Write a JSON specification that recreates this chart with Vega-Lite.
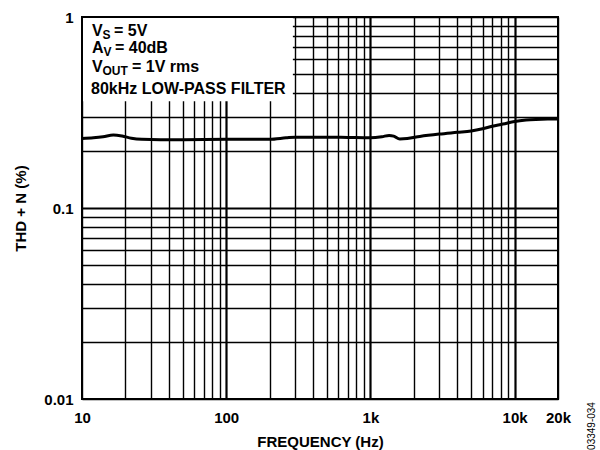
{
  "$schema": "https://vega.github.io/schema/vega-lite/v6.json",
  "width": 476,
  "height": 382,
  "autosize": {"type": "none"},
  "padding": {"left": 82, "top": 17, "right": 42, "bottom": 51},
  "background": "white",
  "config": {"font": "Liberation Sans", "view": {"stroke": null}},
  "layer": [
    {
      "data": {"values": [
        {"f": 10, "thd": 0.231}, {"f": 12, "thd": 0.233}, {"f": 14, "thd": 0.236},
        {"f": 16.5, "thd": 0.241}, {"f": 19, "thd": 0.238}, {"f": 22, "thd": 0.232},
        {"f": 26, "thd": 0.229}, {"f": 35, "thd": 0.228}, {"f": 50, "thd": 0.228},
        {"f": 100, "thd": 0.229}, {"f": 200, "thd": 0.229}, {"f": 260, "thd": 0.233},
        {"f": 300, "thd": 0.235}, {"f": 500, "thd": 0.235}, {"f": 700, "thd": 0.234},
        {"f": 1000, "thd": 0.233}, {"f": 1200, "thd": 0.236}, {"f": 1350, "thd": 0.24},
        {"f": 1450, "thd": 0.238}, {"f": 1600, "thd": 0.23}, {"f": 1800, "thd": 0.231},
        {"f": 2200, "thd": 0.237}, {"f": 3000, "thd": 0.244}, {"f": 4000, "thd": 0.249},
        {"f": 5000, "thd": 0.253}, {"f": 6000, "thd": 0.26}, {"f": 7000, "thd": 0.268},
        {"f": 8300, "thd": 0.275}, {"f": 10000, "thd": 0.284}, {"f": 12000, "thd": 0.289},
        {"f": 14000, "thd": 0.291}, {"f": 17000, "thd": 0.292}, {"f": 20000, "thd": 0.292}
      ]},
      "mark": {"type": "line", "color": "black", "strokeWidth": 3, "interpolate": "monotone"},
      "encoding": {
        "x": {
          "field": "f", "type": "quantitative",
          "scale": {"type": "log", "domain": [10, 20000], "nice": false},
          "axis": {
            "values": [10,20,30,40,50,60,70,80,90,100,200,300,400,500,600,700,800,900,1000,2000,3000,4000,5000,6000,7000,8000,9000,10000,20000],
            "labelExpr": "datum.value==10?'10':datum.value==100?'100':datum.value==1000?'1k':datum.value==10000?'10k':datum.value==20000?'20k':''",
            "labelOverlap": false, "labelFlush": false, "labelBound": false,
            "labelFont": "Liberation Sans", "labelFontWeight": "bold", "labelFontSize": 15, "labelColor": "black",
            "labelPadding": 11,
            "ticks": false, "tickSize": 0, "domain": false,
            "grid": true, "gridColor": "black",
            "gridWidth": {"condition": {"test": "datum.value===100||datum.value===1000||datum.value===10000", "value": 2.2}, "value": 1.4},
            "title": "FREQUENCY (Hz)", "titleFont": "Liberation Sans", "titleFontWeight": "bold", "titleFontSize": 15, "titleColor": "black",
            "titlePadding": 9
          }
        },
        "y": {
          "field": "thd", "type": "quantitative",
          "scale": {"type": "log", "domain": [0.01, 1], "nice": false},
          "axis": {
            "values": [0.01,0.02,0.03,0.04,0.05,0.06,0.07,0.08,0.09,0.1,0.2,0.3,0.4,0.5,0.6,0.7,0.8,0.9,1],
            "labelExpr": "datum.value==1?'1':datum.value==0.1?'0.1':datum.value==0.01?'0.01':''",
            "labelOverlap": false, "labelFlush": false, "labelBound": false,
            "labelFont": "Liberation Sans", "labelFontWeight": "bold", "labelFontSize": 15, "labelColor": "black",
            "labelPadding": 9,
            "ticks": false, "tickSize": 0, "domain": false,
            "grid": true, "gridColor": "black",
            "gridWidth": {"condition": {"test": "datum.value===0.1", "value": 2.2}, "value": 1.4},
            "title": "THD + N (%)", "titleFont": "Liberation Sans", "titleFontWeight": "bold", "titleFontSize": 15, "titleColor": "black",
            "titlePadding": 15
          }
        }
      }
    },
    {
      "data": {"values": [{}]},
      "mark": {"type": "rect", "fill": "white"},
      "encoding": {
        "x": {"datum": 10, "type": "quantitative"},
        "x2": {"datum": 290},
        "y": {"datum": 0.362, "type": "quantitative"},
        "y2": {"datum": 1}
      }
    },
    {
      "data": {"values": [{}]},
      "mark": {"type": "rect", "fill": null, "fillOpacity": 0, "stroke": "black", "strokeWidth": 2},
      "encoding": {
        "x": {"datum": 10, "type": "quantitative"},
        "x2": {"datum": 20000},
        "y": {"datum": 0.01, "type": "quantitative"},
        "y2": {"datum": 1}
      }
    },
    {
      "data": {"values": [{}]},
      "layer": [
        {"mark": {"type": "text", "text": "V", "align": "left", "baseline": "alphabetic", "dx": 10, "fontSize": 16, "fontWeight": "bold", "color": "black"},
         "encoding": {"x": {"datum": 10, "type": "quantitative"}, "y": {"datum": 0.795, "type": "quantitative"}}},
        {"mark": {"type": "text", "text": "S", "align": "left", "baseline": "alphabetic", "dx": 20.5, "dy": 3, "fontSize": 12, "fontWeight": "bold", "color": "black"},
         "encoding": {"x": {"datum": 10, "type": "quantitative"}, "y": {"datum": 0.795, "type": "quantitative"}}},
        {"mark": {"type": "text", "text": "= 5V", "align": "left", "baseline": "alphabetic", "dx": 32, "fontSize": 16, "fontWeight": "bold", "color": "black"},
         "encoding": {"x": {"datum": 10, "type": "quantitative"}, "y": {"datum": 0.795, "type": "quantitative"}}},

        {"mark": {"type": "text", "text": "A", "align": "left", "baseline": "alphabetic", "dx": 10, "fontSize": 16, "fontWeight": "bold", "color": "black"},
         "encoding": {"x": {"datum": 10, "type": "quantitative"}, "y": {"datum": 0.651, "type": "quantitative"}}},
        {"mark": {"type": "text", "text": "V", "align": "left", "baseline": "alphabetic", "dx": 21.5, "dy": 3, "fontSize": 12, "fontWeight": "bold", "color": "black"},
         "encoding": {"x": {"datum": 10, "type": "quantitative"}, "y": {"datum": 0.651, "type": "quantitative"}}},
        {"mark": {"type": "text", "text": "= 40dB", "align": "left", "baseline": "alphabetic", "dx": 33, "fontSize": 16, "fontWeight": "bold", "color": "black"},
         "encoding": {"x": {"datum": 10, "type": "quantitative"}, "y": {"datum": 0.651, "type": "quantitative"}}},

        {"mark": {"type": "text", "text": "V", "align": "left", "baseline": "alphabetic", "dx": 10, "fontSize": 16, "fontWeight": "bold", "color": "black"},
         "encoding": {"x": {"datum": 10, "type": "quantitative"}, "y": {"datum": 0.515, "type": "quantitative"}}},
        {"mark": {"type": "text", "text": "OUT", "align": "left", "baseline": "alphabetic", "dx": 20.5, "dy": 3, "fontSize": 12, "fontWeight": "bold", "color": "black"},
         "encoding": {"x": {"datum": 10, "type": "quantitative"}, "y": {"datum": 0.515, "type": "quantitative"}}},
        {"mark": {"type": "text", "text": "= 1V rms", "align": "left", "baseline": "alphabetic", "dx": 50, "fontSize": 16, "fontWeight": "bold", "color": "black"},
         "encoding": {"x": {"datum": 10, "type": "quantitative"}, "y": {"datum": 0.515, "type": "quantitative"}}},

        {"mark": {"type": "text", "text": "80kHz LOW-PASS FILTER", "align": "left", "baseline": "alphabetic", "dx": 9, "fontSize": 16, "fontWeight": "bold", "color": "black"},
         "encoding": {"x": {"datum": 10, "type": "quantitative"}, "y": {"datum": 0.397, "type": "quantitative"}}},

        {"mark": {"type": "text", "text": "03349-034", "align": "center", "baseline": "middle", "angle": 270, "dx": -27, "dy": 34, "fontSize": 10, "color": "black"},
         "encoding": {"x": {"datum": 20000, "type": "quantitative"}, "y": {"datum": 0.01, "type": "quantitative"}}}
      ]
    }
  ]
}
